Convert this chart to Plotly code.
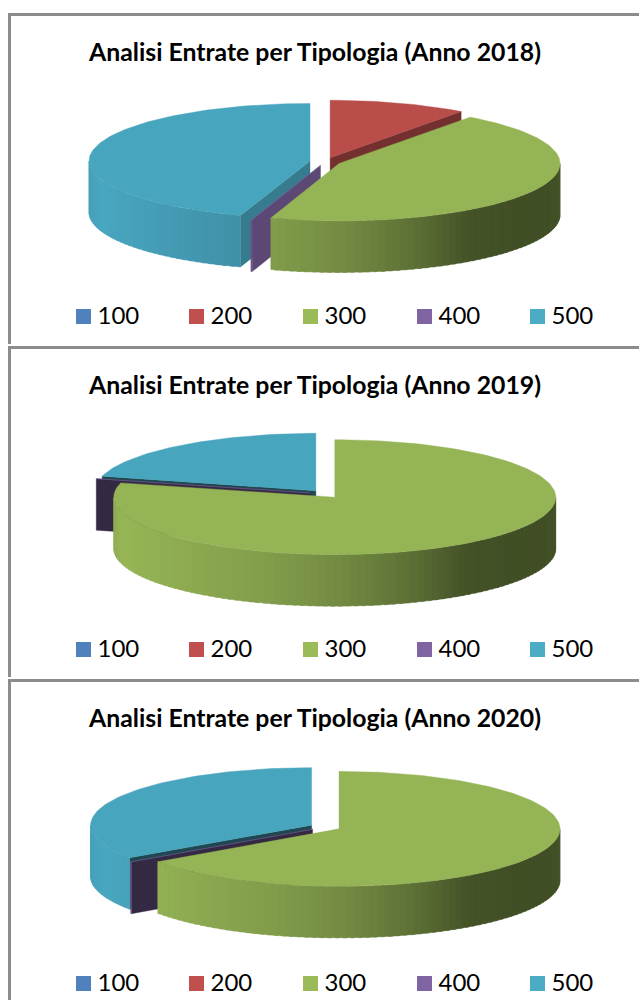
import math
import numpy as np
import plotly.graph_objects as go

# ---- data (share of each category, percent) ----
categories = ["100", "200", "300", "400", "500"]
years = ["2018", "2019", "2020"]
values_2018 = [0.0, 10.1, 44.9, 0.1, 44.9]
values_2019 = [0.0, 0.0, 79.0, 0.1, 20.9]
values_2020 = [0.0, 0.0, 65.3, 0.1, 34.6]
series = [values_2018, values_2019, values_2020]
title_template = "Analisi Entrate per Tipologia (Anno {})"

# ---- styling ----
colors = ["#4F81BD", "#C0504D", "#9BBB59", "#8064A2", "#4BACC6"]
FRAME = "#8C8C8C"
FONT = "Lato"
TOP_SHADE = 0.96
RIM_T = [90, 125, 144, 160, 180, 198, 225, 250, 270]
RIM_S = [0.43, 0.42, 0.44, 0.60, 0.75, 0.84, 0.92, 0.97, 0.93]
FACE_T = [0, 36, 198, 235, 360]
FACE_S = [0.6, 0.6, 0.72, 0.41, 0.41]

# ---- geometry of each pie in the page ----
CX = 325.3
CY = [161.6, 494.0, 827.0]
RX, RY, DEPTH, EXPLODE = 221.0, 57.5, 51.5, 0.07
TITLE_Y = [51.5, 384.5, 717.5]
LEGEND_Y = [316.5, 649.5, 983.5]
LEGEND_X = [76, 189, 303, 417, 530]
FRAME_TOP = [14.5, 347.5, 680.5]
FRAME_BOTTOM = [344, 677, 1000]


def shade(hex_color, f):
    r, g, b = (int(hex_color[i:i + 2], 16) for i in (1, 3, 5))
    return f"rgb({r * f:.0f},{g * f:.0f},{b * f:.0f})"


def point(cx, cy, t):
    a = math.radians(t)
    return cx + RX * math.sin(a), cy - RY * math.cos(a)


fig = go.Figure()


def poly(xs, ys, color):
    fig.add_trace(go.Scatter(
        x=list(xs) + [xs[0]], y=list(ys) + [ys[0]], mode="lines", fill="toself",
        fillcolor=color, line=dict(color=color, width=0.4),
        hoverinfo="skip", showlegend=False))


def draw_face(cx, cy, t, base):
    x, y = point(cx, cy, t)
    f = float(np.interp(t, FACE_T, FACE_S))
    poly([cx, x, x, cx], [cy, y, y + DEPTH, cy + DEPTH], shade(base, f))


def draw_slice(cx, cy, t0, t1, base):
    if math.sin(math.radians(t0)) < 0:
        draw_face(cx, cy, t0, base)
    if math.sin(math.radians(t1)) > 0:
        draw_face(cx, cy, t1, base)
    # outer wall, front half only
    lo, hi = max(t0, 90.0), min(t1, 270.0)
    if hi > lo:
        edges = np.arange(lo, hi, 2.0).tolist() + [hi]
        for a, b in zip(edges[:-1], edges[1:]):
            end = min(b + 1.0, hi)
            ts = [a, (a + end) / 2, end]
            pts = [point(cx, cy, t) for t in ts]
            xs = [p[0] for p in pts] + [p[0] for p in pts[::-1]]
            ys = [p[1] for p in pts] + [p[1] + DEPTH for p in pts[::-1]]
            f = float(np.interp((a + b) / 2, RIM_T, RIM_S))
            poly(xs, ys, shade(base, f))
    # top surface
    n = max(2, int((t1 - t0) / 1.5))
    ts = np.linspace(t0, t1, n + 1)
    pts = [point(cx, cy, t) for t in ts]
    poly([cx] + [p[0] for p in pts], [cy] + [p[1] for p in pts], shade(base, TOP_SHADE))


for k, values in enumerate(series):
    total = sum(values)
    slices = []
    start = 0.0
    for i, v in enumerate(values):
        if v <= 0:
            continue
        end = start + 360.0 * v / total
        slices.append((start, end, colors[i]))
        start = end

    def front_distance(s):
        return 0.0 if s[0] <= 180 <= s[1] else min(abs(s[0] - 180), abs(s[1] - 180))

    for t0, t1, base in sorted(slices, key=front_distance, reverse=True):
        tm = math.radians((t0 + t1) / 2)
        cx = CX + EXPLODE * RX * math.sin(tm)
        cy = CY[k] - EXPLODE * RY * math.cos(tm)
        draw_slice(cx, cy, t0, t1, base)

    # legend: swatches plus real labels
    fig.add_trace(go.Scatter(
        x=[x + 7.5 for x in LEGEND_X], y=[LEGEND_Y[k]] * len(categories), mode="markers",
        marker=dict(symbol="square", size=15, color=colors, line=dict(width=0)),
        hoverinfo="skip", showlegend=False))
    fig.add_trace(go.Scatter(
        x=[x + 21.5 for x in LEGEND_X], y=[LEGEND_Y[k] + 1.5] * len(categories), mode="text",
        text=categories, textposition="middle right",
        textfont=dict(family=FONT, size=24, color="#000000"),
        hoverinfo="skip", showlegend=False))

    fig.add_annotation(
        x=314.5, y=TITLE_Y[k], xref="x", yref="y", showarrow=False,
        text="<b>" + title_template.format(years[k]) + "</b>",
        font=dict(family=FONT, size=24.8, color="#000000"))

    # chart frame: top and left edges (the right edge is outside the page)
    fig.add_shape(type="line", xref="x", yref="y", x0=8, x1=639, y0=FRAME_TOP[k], y1=FRAME_TOP[k],
                  line=dict(color=FRAME, width=3))
    fig.add_shape(type="line", xref="x", yref="y", x0=9.5, x1=9.5, y0=FRAME_TOP[k] - 1.5, y1=FRAME_BOTTOM[k],
                  line=dict(color=FRAME, width=3))

fig.update_layout(
    width=639, height=1000, margin=dict(l=0, r=0, t=0, b=0),
    paper_bgcolor="white", plot_bgcolor="white", showlegend=False,
    xaxis=dict(range=[0, 639], visible=False, fixedrange=True),
    yaxis=dict(range=[1000, 0], visible=False, fixedrange=True),
)
fig.write_html(
    "out.html", config=dict(displayModeBar=False),
    post_script="document.body.style.margin='0';document.documentElement.style.overflow='hidden';",
)
